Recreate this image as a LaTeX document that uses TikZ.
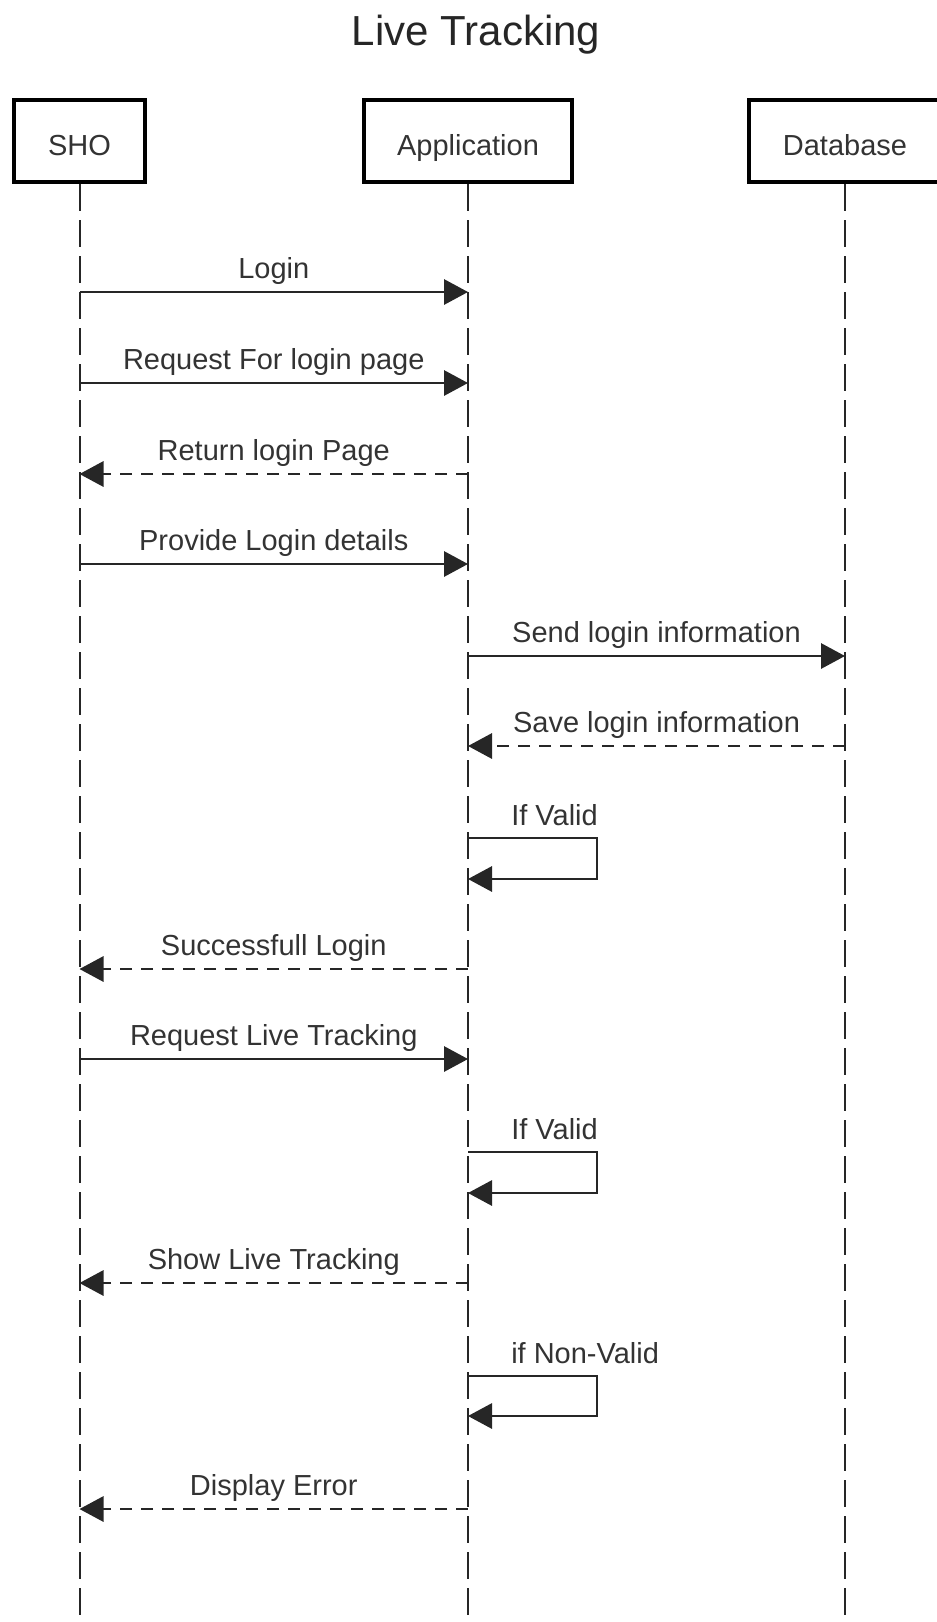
\documentclass[tikz,border=0pt]{standalone}
\usepackage{fontspec}
\setmainfont{Liberation Sans}
\usetikzlibrary{arrows.meta}
\begin{document}
\begin{tikzpicture}[x=0.75pt,y=-0.75pt,
  actor/.style={draw=black, line width=3pt, minimum height=61.5pt, inner sep=0pt,
    text height=21pt, text depth=0pt,
    font=\fontsize{21.75}{26}\selectfont, text=black!80},
  lifeline/.style={line width=1.5pt, dash pattern=on 20pt off 7pt, black!85},
  msg/.style={line width=1.5pt, black!85, -{Triangle[length=18pt,width=19pt]}},
  ret/.style={msg, dash pattern=on 9pt off 6.75pt},
  lbl/.style={font=\fontsize{21.75}{26}\selectfont, text=black!80, inner sep=0pt},
  mlbl/.style={lbl, midway, anchor=base, yshift=10.5pt},
]
\useasboundingbox (0,0) rectangle (937,1622);
\node (title) [anchor=base, inner sep=0pt, text=black!85, font=\fontsize{31.5}{38}\selectfont] at (476,45) {Live Tracking};

\node[actor, minimum width=98.25pt] (sho) at (79.5,141) {SHO};
\node[actor, minimum width=156pt] (app) at (468,141) {Application};
\node[actor, minimum width=144pt] (db) at (845,141) {Database};

\coordinate (shoEnd) at (79.5,1625);
\coordinate (appEnd) at (468,1625);
\coordinate (dbEnd) at (845,1625);
\draw[lifeline] (sho.south) -- (shoEnd);
\draw[lifeline] (app.south) -- (appEnd);
\draw[lifeline] (db.south) -- (dbEnd);

% messages
\coordinate (m1s) at (79.5,292);  \coordinate (m1a) at (468,292);
\coordinate (m2s) at (79.5,383);  \coordinate (m2a) at (468,383);
\coordinate (m3s) at (79.5,474);  \coordinate (m3a) at (468,474);
\coordinate (m4s) at (79.5,564);  \coordinate (m4a) at (468,564);
\coordinate (m5a) at (468,656);   \coordinate (m5d) at (845,656);
\coordinate (m6a) at (468,746);   \coordinate (m6d) at (845,746);
\coordinate (m8s) at (79.5,969);  \coordinate (m8a) at (468,969);
\coordinate (m9s) at (79.5,1059); \coordinate (m9a) at (468,1059);
\coordinate (m11s) at (79.5,1283); \coordinate (m11a) at (468,1283);
\coordinate (m13s) at (79.5,1509); \coordinate (m13a) at (468,1509);

\draw[msg] (m1s) -- node[mlbl] {Login} (m1a);
\draw[msg] (m2s) -- node[mlbl] {Request For login page} (m2a);
\draw[ret] (m3a) -- node[mlbl] {Return login Page} (m3s);
\draw[msg] (m4s) -- node[mlbl] {Provide Login details} (m4a);
\draw[msg] (m5a) -- node[mlbl] {Send login information} (m5d);
\draw[ret] (m6d) -- node[mlbl] {Save login information} (m6a);
\draw[ret] (m8a) -- node[mlbl] {Successfull Login} (m8s);
\draw[msg] (m9s) -- node[mlbl] {Request Live Tracking} (m9a);
\draw[ret] (m11a) -- node[mlbl] {Show Live Tracking} (m11s);
\draw[ret] (m13a) -- node[mlbl] {Display Error} (m13s);

% self loops
\coordinate (l1a) at (468,838);  \coordinate (l1b) at (597,838);
\coordinate (l1c) at (597,879);  \coordinate (l1d) at (468,879);
\coordinate (l2a) at (468,1152); \coordinate (l2b) at (597,1152);
\coordinate (l2c) at (597,1193); \coordinate (l2d) at (468,1193);
\coordinate (l3a) at (468,1376); \coordinate (l3b) at (597,1376);
\coordinate (l3c) at (597,1416); \coordinate (l3d) at (468,1416);

\draw[msg] (l1a) -- (l1b) -- (l1c) -- (l1d);
\draw[msg] (l2a) -- (l2b) -- (l2c) -- (l2d);
\draw[msg] (l3a) -- (l3b) -- (l3c) -- (l3d);
\path (l1a) ++(43,-13) node[lbl, anchor=base west] {If Valid};
\path (l2a) ++(43,-13) node[lbl, anchor=base west] {If Valid};
\path (l3a) ++(43,-13) node[lbl, anchor=base west] {if Non-Valid};
\end{tikzpicture}
\end{document}
